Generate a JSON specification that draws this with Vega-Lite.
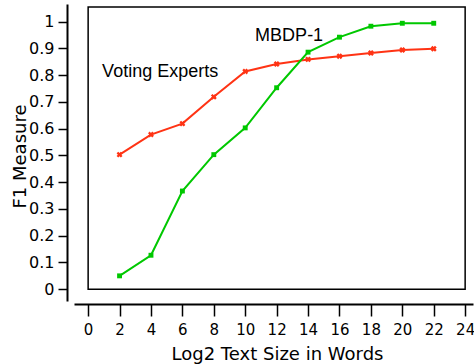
{
  "$schema": "https://vega.github.io/schema/vega-lite/v6.json",
  "width": 399,
  "height": 297,
  "autosize": {"type": "none"},
  "padding": {"left": 74, "top": 4, "right": 1, "bottom": 63},
  "background": "white",
  "config": {"view": {"stroke": null}},
  "datasets": {
    "series": [
      {"size": 2, "f1": 0.503, "method": "Voting Experts"},
      {"size": 4, "f1": 0.578, "method": "Voting Experts"},
      {"size": 6, "f1": 0.619, "method": "Voting Experts"},
      {"size": 8, "f1": 0.719, "method": "Voting Experts"},
      {"size": 10, "f1": 0.814, "method": "Voting Experts"},
      {"size": 12, "f1": 0.842, "method": "Voting Experts"},
      {"size": 14, "f1": 0.859, "method": "Voting Experts"},
      {"size": 16, "f1": 0.871, "method": "Voting Experts"},
      {"size": 18, "f1": 0.883, "method": "Voting Experts"},
      {"size": 20, "f1": 0.894, "method": "Voting Experts"},
      {"size": 22, "f1": 0.899, "method": "Voting Experts"},
      {"size": 2, "f1": 0.05, "method": "MBDP-1"},
      {"size": 4, "f1": 0.127, "method": "MBDP-1"},
      {"size": 6, "f1": 0.367, "method": "MBDP-1"},
      {"size": 8, "f1": 0.503, "method": "MBDP-1"},
      {"size": 10, "f1": 0.603, "method": "MBDP-1"},
      {"size": 12, "f1": 0.753, "method": "MBDP-1"},
      {"size": 14, "f1": 0.886, "method": "MBDP-1"},
      {"size": 16, "f1": 0.942, "method": "MBDP-1"},
      {"size": 18, "f1": 0.983, "method": "MBDP-1"},
      {"size": 20, "f1": 0.994, "method": "MBDP-1"},
      {"size": 22, "f1": 0.994, "method": "MBDP-1"}
    ],
    "labels": [
      {"size": 0.89, "f1": 0.795, "text": "Voting Experts"},
      {"size": 10.63, "f1": 0.926, "text": "MBDP-1"}
    ]
  },
  "layer": [
    {
      "data": {"values": [{}]},
      "mark": {"type": "rect", "fill": "transparent", "stroke": "black", "strokeWidth": 1.5},
      "encoding": {
        "x": {"datum": 0, "type": "quantitative"},
        "x2": {"datum": 24},
        "y": {"datum": 0, "type": "quantitative"},
        "y2": {"datum": 1.055}
      }
    },
    {
      "data": {"name": "series"},
      "mark": {"type": "line", "strokeWidth": 2},
      "encoding": {
        "x": {"field": "size", "type": "quantitative"},
        "y": {"field": "f1", "type": "quantitative"},
        "color": {"field": "method", "type": "nominal", "legend": null,
          "scale": {"domain": ["Voting Experts", "MBDP-1"], "range": ["#ff3314", "#00c800"]}}
      }
    },
    {
      "data": {"name": "series"},
      "mark": {"type": "point", "filled": true, "opacity": 1},
      "encoding": {
        "x": {"field": "size", "type": "quantitative"},
        "y": {"field": "f1", "type": "quantitative"},
        "color": {"field": "method", "type": "nominal", "legend": null},
        "shape": {"field": "method", "type": "nominal", "legend": null,
          "scale": {"domain": ["Voting Experts", "MBDP-1"], "range": ["cross", "square"]}},
        "angle": {"field": "method", "type": "nominal", "legend": null,
          "scale": {"domain": ["Voting Experts", "MBDP-1"], "range": [45, 0]}},
        "size": {"field": "method", "type": "nominal", "legend": null,
          "scale": {"domain": ["Voting Experts", "MBDP-1"], "range": [36, 24]}}
      }
    },
    {
      "data": {"name": "labels"},
      "mark": {"type": "text", "align": "left", "baseline": "alphabetic", "font": "Liberation Sans", "fontSize": 18, "color": "black"},
      "encoding": {
        "x": {"field": "size", "type": "quantitative"},
        "y": {"field": "f1", "type": "quantitative"},
        "text": {"field": "text"}
      }
    }
  ],
  "encoding": {
    "x": {
      "type": "quantitative",
      "scale": {"domain": [-0.9, 24.5], "nice": false, "zero": false},
      "axis": {
        "title": "Log2 Text Size in Words",
        "values": [0, 2, 4, 6, 8, 10, 12, 14, 16, 18, 20, 22, 24],
        "format": "d",
        "offset": 3,
        "grid": false,
        "domainColor": "black", "domainWidth": 2,
        "tickColor": "black", "tickWidth": 1.5, "tickSize": 12,
        "labelFont": "DejaVu Sans", "labelFontSize": 15, "labelColor": "black", "labelPadding": 6,
        "labelFlush": false, "labelOverlap": false,
        "titleFont": "DejaVu Sans", "titleFontSize": 18, "titleFontWeight": "normal", "titleColor": "black",
        "titleX": 203, "titleY": 55, "titleBaseline": "alphabetic"
      }
    },
    "y": {
      "type": "quantitative",
      "scale": {"domain": [-0.044, 1.066], "nice": false, "zero": false},
      "axis": {
        "title": "F1 Measure",
        "values": [0, 0.1, 0.2, 0.3, 0.4, 0.5, 0.6, 0.7, 0.8, 0.9, 1],
        "format": "~g",
        "offset": 7,
        "grid": false,
        "domainColor": "black", "domainWidth": 2,
        "tickColor": "black", "tickWidth": 1.5, "tickSize": 9,
        "labelFont": "DejaVu Sans", "labelFontSize": 16, "labelColor": "black", "labelPadding": 4,
        "labelFlush": false, "labelOverlap": false,
        "titleFont": "DejaVu Sans", "titleFontSize": 18, "titleFontWeight": "normal", "titleColor": "black",
        "titleAngle": -90, "titleX": -42, "titleY": 152, "titleBaseline": "alphabetic", "titleAlign": "center"
      }
    }
  }
}
